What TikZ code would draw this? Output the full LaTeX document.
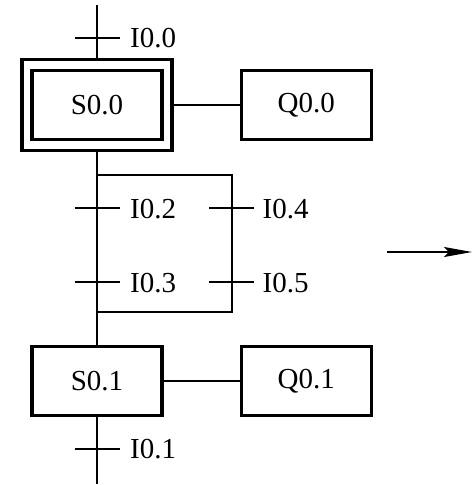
\documentclass[tikz,border=0pt]{standalone}
\usepackage{fontspec}
\setmainfont{Liberation Serif}
\usetikzlibrary{arrows.meta}
\begin{document}
\begin{tikzpicture}[x=1pt,y=-1pt,
  txt/.style={font=\fontsize{29}{30}\selectfont},
  box/.style={draw, line width=3.6pt, minimum width=130pt, minimum height=69pt, inner sep=0pt, txt},
  lbl/.style={anchor=west, inner sep=0pt, txt},
  wire/.style={line width=2.2pt},
  tickmark/.style={line width=2.2pt}]
\useasboundingbox (0,0) rectangle (473,485);
% steps and actions
\node[draw, line width=3.6pt, minimum width=150.3pt, minimum height=91pt, inner sep=0pt] (S00o) at (97,105) {};
\node[box] (S00) at (97,105) {S0.0};
\node[box] (Q00) at (306.3,105) {Q0.0};
\node[box] (S01) at (97,381) {S0.1};
\node[box] (Q01) at (306.3,381) {Q0.1};
% coordinates
\coordinate (top) at (97,5);
\coordinate (bot) at (97,484);
\coordinate (pa) at (97,174.7);
\coordinate (pb) at (231.7,174.7);
\coordinate (pc) at (231.7,311.7);
\coordinate (pd) at (97,311.7);
\coordinate (a1) at (387,252);
\coordinate (a2) at (472,252);
% connectors
\draw[wire] (top) -- (S00o.north);
\draw[wire] (S00o.east) -- (Q00.west);
\draw[wire] (S00o.south) -- (S01.north);
\draw[wire] (S01.east) -- (Q01.west);
\draw[wire] (S01.south) -- (bot);
\draw[wire] (pa) -- (pb) -- (pc) -- (pd);
\draw[wire, -{Stealth[length=28pt,width=10pt,inset=5pt]}] (a1) -- (a2);
% transition ticks
\draw[tickmark] (97,38) ++(-22.5,0) -- ++(45,0);
\draw[tickmark] (97,208) ++(-22.5,0) -- ++(45,0);
\draw[tickmark] (97,282) ++(-22.5,0) -- ++(45,0);
\draw[tickmark] (231.7,208) ++(-22.5,0) -- ++(45,0);
\draw[tickmark] (231.7,282) ++(-22.5,0) -- ++(45,0);
\draw[tickmark] (97,449) ++(-22.5,0) -- ++(45,0);
% labels
\node[lbl] (l00) at (130,38) {I0.0};
\node[lbl] (l02) at (130,209) {I0.2};
\node[lbl] (l04) at (262.5,209) {I0.4};
\node[lbl] (l03) at (130,283) {I0.3};
\node[lbl] (l05) at (262.5,283) {I0.5};
\node[lbl] (l01) at (130,449) {I0.1};
\end{tikzpicture}
\end{document}
